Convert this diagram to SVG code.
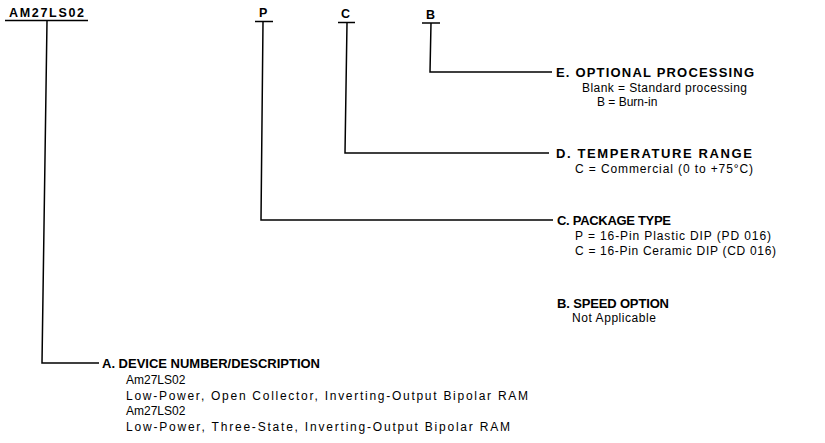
<svg xmlns="http://www.w3.org/2000/svg" width="825" height="443" viewBox="0 0 825 443">
<style>
.h{font-family:"Liberation Sans",Arial,sans-serif;font-weight:bold;font-size:13px;fill:#000}
.c{font-family:"Liberation Sans",Arial,sans-serif;font-weight:bold;font-size:12.5px;fill:#000}
.t{font-family:"Liberation Sans",Arial,sans-serif;font-size:12px;fill:#000}
.ln{fill:none;stroke:#000;stroke-width:1.5}
</style>
<rect width="825" height="443" fill="#fff"/>
<g id="codes">
<text class="c" x="9" y="17" textLength="75">AM27LS02</text>
<text class="c" x="259" y="17">P</text>
<text class="c" x="341" y="18">C</text>
<text class="c" x="426" y="19">B</text>
</g>
<g id="connectors" class="ln">
<line x1="5" y1="20.5" x2="88" y2="20.5"/>
<line x1="255" y1="21.5" x2="273" y2="21.5"/>
<line x1="338" y1="22.5" x2="355" y2="22.5"/>
<line x1="422" y1="23" x2="440" y2="23"/>
<polyline points="47,21 42,363 99,363"/>
<polyline points="263,22 261,220 553,220"/>
<polyline points="347,23 345,153 549,153"/>
<polyline points="431,23 430,72 552,72"/>
</g>
<g id="nodeE">
<text class="h" x="556" y="77" textLength="198">E. OPTIONAL PROCESSING</text>
<text class="t" x="582" y="92" textLength="165">Blank = Standard processing</text>
<text class="t" x="597" y="106">B = Burn-in</text>
</g>
<g id="nodeD">
<text class="h" x="556" y="158" textLength="196">D. TEMPERATURE RANGE</text>
<text class="t" x="575" y="173" textLength="178">C = Commercial (0 to +75°C)</text>
</g>
<g id="nodeC">
<text class="h" x="557" y="225" textLength="114">C. PACKAGE TYPE</text>
<text class="t" x="575" y="240" textLength="196">P = 16-Pin Plastic DIP (PD 016)</text>
<text class="t" x="575" y="255" textLength="201">C = 16-Pin Ceramic DIP (CD 016)</text>
</g>
<g id="nodeB">
<text class="h" x="557" y="308" textLength="112">B. SPEED OPTION</text>
<text class="t" x="572" y="322" textLength="84">Not Applicable</text>
</g>
<g id="nodeA">
<text class="h" x="102" y="368" textLength="218">A. DEVICE NUMBER/DESCRIPTION</text>
<text class="t" x="126" y="384">Am27LS02</text>
<text class="t" x="126" y="400" textLength="402">Low-Power, Open Collector, Inverting-Output Bipolar RAM</text>
<text class="t" x="126" y="415">Am27LS02</text>
<text class="t" x="126" y="431" textLength="384">Low-Power, Three-State, Inverting-Output Bipolar RAM</text>
</g>
</svg>
